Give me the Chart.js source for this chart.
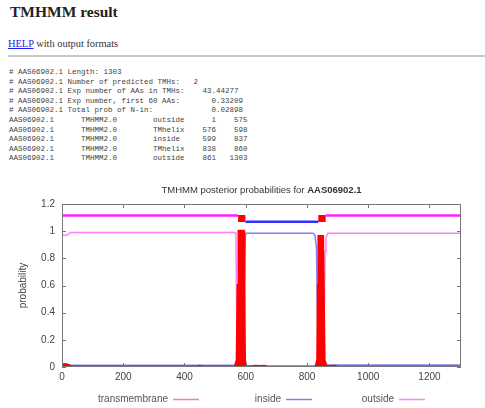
<!DOCTYPE html>
<html lang="en">
  <head>
    <meta charset="UTF-8" />
    <title>TMHMM result</title>
    <style>
      body { margin: 0; background: #fff; width: 485px; height: 408px; overflow: hidden; position: relative; }
      h2 { position: absolute; left: 10px; top: 3px; margin: 0; font: bold 15.5px/18px "Liberation Serif", serif; color: #222; }
      .help { position: absolute; left: 8px; top: 37px; margin: 0; font: 10.4px/13px "Liberation Serif", serif; color: #333; }
      .help a { color: #2222ee; }
      hr { position: absolute; left: 8px; right: 0; top: 55px; margin: 0; border: 0; border-top: 2px solid #c8c8c8; }
      pre { position: absolute; left: 9px; top: 68px; margin: 0; font-family: "Liberation Mono", "DejaVu Sans Mono", monospace; font-size: 7.5px; line-height: 9.6px; color: #444; }
      #chartBox { position: absolute; left: 0; top: 180px; width: 485px; height: 228px; }
    </style>
  </head>
  <body>
    <h2>TMHMM result</h2>
    <p class="help"><a href="#">HELP</a> with output formats</p>
    <hr />
    <pre id="result"></pre>
    <div id="chartBox">
      <canvas id="myChart" width="485" height="228"></canvas>
    </div>

    <script src="https://cdn.jsdelivr.net/npm/chart.js/dist/chart.umd.min.js"></script>
    <script>
      // protein + prediction summary
      const seqId = 'AAS06902.1';
      const seqLength = 1303;
      const headerLines = [
        '# AAS06902.1 Length: 1303',
        '# AAS06902.1 Number of predicted TMHs:   2',
        '# AAS06902.1 Exp number of AAs in TMHs:    43.44277',
        '# AAS06902.1 Exp number, first 60 AAs:       0.33209',
        '# AAS06902.1 Total prob of N-in:             0.02898'
      ];
      const segLabels = ['outside', 'TMhelix', 'inside', 'TMhelix', 'outside'];
      const segStart = [1, 576, 599, 838, 861];
      const segEnd = [575, 598, 837, 860, 1303];

      // posterior probabilities
      const tmX = [1, 10, 20, 28, 40, 440, 450, 460, 560, 566, 572, 575, 578, 592, 594, 596, 600, 606, 620, 630, 645, 660, 670, 825, 830, 835, 837, 839, 851, 853, 856, 862, 866, 880, 890, 900, 1303];
      const tmY = [0.015, 0.018, 0.014, 0.004, 0, 0, 0.006, 0, 0, 0.004, 0.05, 0.6, 1.0, 1.0, 0.6, 0.05, 0.004, 0.002, 0.002, 0.006, 0.004, 0.006, 0, 0, 0.01, 0.05, 0.6, 0.96, 0.96, 0.6, 0.05, 0.01, 0.003, 0.003, 0.006, 0, 0];

      const inX = [1, 560, 590, 594, 597, 599, 602, 820, 826, 831, 834, 837, 840, 1303];
      const inY = [0.012, 0.012, 0.02, 0.15, 0.8, 0.97, 0.985, 0.985, 0.97, 0.88, 0.4, 0.04, 0.015, 0.015];

      const outX = [1, 15, 22, 28, 565, 568, 570, 572, 576, 600, 830, 848, 852, 856, 859, 862, 868, 1303];
      const outY = [0.97, 0.97, 0.98, 0.99, 0.99, 0.97, 0.5, 0.05, 0.003, 0.003, 0.003, 0.003, 0.02, 0.3, 0.85, 0.95, 0.985, 0.985];

      // topology bar drawn above the curves
      const topOutX = [1, 575, 576, 861, 1303];
      const topOutY = [1.115, 1.115, null, 1.115, 1.115];
      const topInX = [599, 837];
      const topInY = [1.07, 1.07];
      const topTmX = [575, 599, 600, 837, 861];
      const topTmY = [1.094, 1.094, null, 1.094, 1.094];

      const xTicks = [0, 200, 400, 600, 800, 1000, 1200];
      const yTicks = [0, 0.2, 0.4, 0.6, 0.8, 1, 1.2];

      const legendNames = ['transmembrane', 'inside', 'outside'];
      const legendColors = ['#ff8080', '#8080ff', '#ff80ff'];

      // text output
      const pre = document.getElementById('result');
      const rows = segLabels.map((lab, i) =>
        seqId.padEnd(16) + 'TMHMM2.0'.padEnd(16) + lab.padEnd(8) +
        String(segStart[i]).padStart(6) + String(segEnd[i]).padStart(7));
      pre.textContent = headerLines.concat(rows).join('\n');

      const pts = (xs, ys) => xs.map((x, i) => ({ x: x, y: ys[i] }));
      const fmt = v => String(Math.round(v * 10) / 10);

      // border box + inward ticks like gnuplot
      const frame = {
        id: 'frame',
        afterDatasetsDraw(chart) {
          const { ctx, chartArea: a, scales } = chart;
          ctx.save();
          ctx.strokeStyle = '#777';
          ctx.lineWidth = 1;
          ctx.strokeRect(a.left + 0.5, a.top + 0.5, a.right - a.left - 1, a.bottom - a.top - 1);
          ctx.beginPath();
          xTicks.forEach(v => {
            const px = Math.round(scales.x.getPixelForValue(v)) + 0.5;
            ctx.moveTo(px, a.bottom); ctx.lineTo(px, a.bottom - 4);
            ctx.moveTo(px, a.top); ctx.lineTo(px, a.top + 4);
          });
          yTicks.forEach(v => {
            const py = Math.round(scales.y.getPixelForValue(v)) + 0.5;
            ctx.moveTo(a.left, py); ctx.lineTo(a.left + 4, py);
            ctx.moveTo(a.right, py); ctx.lineTo(a.right - 4, py);
          });
          ctx.stroke();
          ctx.restore();
        },
        afterDraw(chart) {
          const { ctx, chartArea: a } = chart;
          ctx.save();
          // title, id part in bold
          const t1 = 'TMHMM posterior probabilities for ';
          const t2 = seqId;
          ctx.fillStyle = '#333';
          ctx.textBaseline = 'middle';
          ctx.font = '9.5px "Liberation Sans", Arial, sans-serif';
          const w1 = ctx.measureText(t1).width;
          ctx.font = 'bold 9.5px "Liberation Sans", Arial, sans-serif';
          const w2 = ctx.measureText(t2).width;
          let x0 = (a.left + a.right) / 2 - (w1 + w2) / 2;
          ctx.font = '9.5px "Liberation Sans", Arial, sans-serif';
          ctx.fillText(t1, x0, 10);
          ctx.font = 'bold 9.5px "Liberation Sans", Arial, sans-serif';
          ctx.fillText(t2, x0 + w1, 10);
          // legend: text then line sample
          ctx.font = '10px "Liberation Sans", Arial, sans-serif';
          ctx.fillStyle = '#555';
          ctx.textAlign = 'right';
          legendNames.forEach((name, i) => {
            const end = 199 + i * 113;
            ctx.fillText(name, end - 31, 219);
            ctx.beginPath();
            ctx.strokeStyle = legendColors[i];
            ctx.lineWidth = 1.5;
            ctx.moveTo(end - 26, 219.5);
            ctx.lineTo(end, 219.5);
            ctx.stroke();
          });
          ctx.restore();
        }
      };

      const config = {
        type: 'line',
        data: {
          datasets: [
            { label: 'transmembrane', data: pts(tmX, tmY), borderColor: '#ff0000', backgroundColor: '#ff0000', borderWidth: 3, fill: 'origin' },
            { label: 'inside', data: pts(inX, inY), borderColor: '#8080ff', borderWidth: 1.5 },
            { label: 'outside', data: pts(outX, outY), borderColor: '#ff80ff', borderWidth: 1.5 },
            { label: 'tm-top', data: pts(topTmX, topTmY), borderColor: '#ff0000', borderWidth: 7, borderCapStyle: 'butt' },
            { label: 'in-top', data: pts(topInX, topInY), borderColor: '#3030ff', borderWidth: 2.5 },
            { label: 'out-top', data: pts(topOutX, topOutY), borderColor: '#ff20ff', borderWidth: 2.5 }
          ]
        },
        options: {
          responsive: false,
          animation: false,
          layout: { padding: { top: 24, right: 24, left: 0, bottom: 0 } },
          elements: { point: { radius: 0 }, line: { tension: 0, fill: false } },
          plugins: { legend: { display: false }, title: { display: false }, tooltip: { enabled: false } },
          scales: {
            x: {
              type: 'linear',
              min: 0,
              max: seqLength,
              afterFit: s => { s.height = 41; },
              afterBuildTicks: s => { s.ticks = xTicks.map(v => ({ value: v })); },
              grid: { display: false, drawTicks: false },
              border: { display: false },
              ticks: { padding: 4, color: '#444', callback: fmt, font: { family: '"Liberation Sans", Arial, sans-serif', size: 10 } }
            },
            y: {
              min: 0,
              max: 1.2,
              afterFit: s => { s.width = 62; },
              afterBuildTicks: s => { s.ticks = yTicks.map(v => ({ value: v })); },
              grid: { display: false, drawTicks: false },
              border: { display: false },
              ticks: { padding: 7, color: '#444', callback: fmt, font: { family: '"Liberation Sans", Arial, sans-serif', size: 10 } },
              title: { display: true, text: 'probability', color: '#444', padding: { top: 17 }, font: { family: '"Liberation Sans", Arial, sans-serif', size: 10 } }
            }
          }
        },
        plugins: [frame]
      };

      const myChart = new Chart(document.getElementById('myChart'), config);
    </script>
  </body>
</html>
